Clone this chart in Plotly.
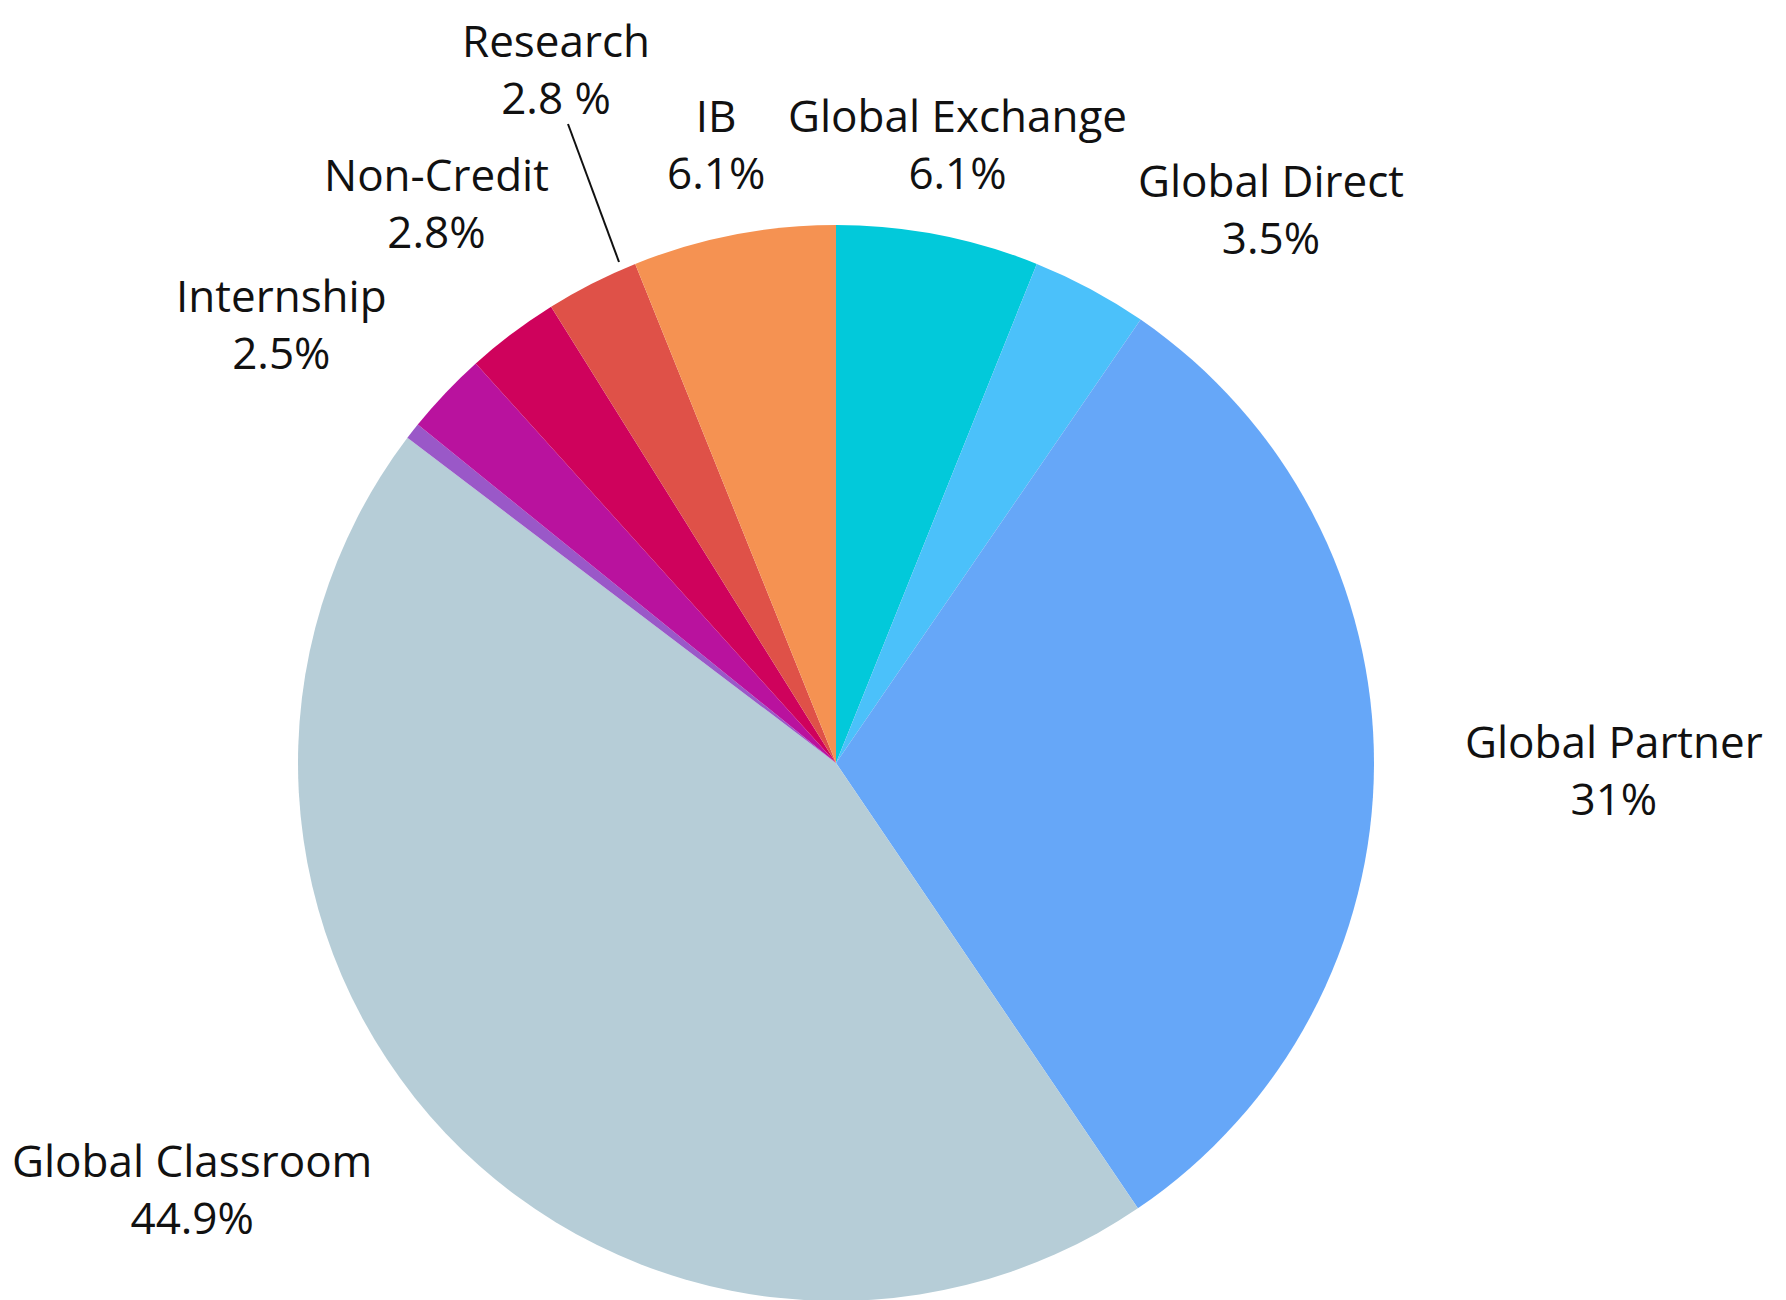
import plotly.graph_objects as go

# slices, clockwise from 12 o'clock
programs = ["Global Exchange", "Global Direct", "Global Partner", "Global Classroom",
            "Other", "Internship", "Non-Credit", "Research", "IB"]
shares = [6.1, 3.5, 31.0, 44.9, 0.5, 2.5, 2.8, 2.8, 6.1]
share_text = ["6.1%", "3.5%", "31%", "44.9%", "", "2.5%", "2.8%", "2.8 %", "6.1%"]
colors = ["#02C9DA", "#4BC1FA", "#66A7F8", "#B6CDD7", "#9A58C8",
          "#B9129E", "#CF025C", "#DF5148", "#F59252"]

# page has an 8px body margin, so the figure starts at (8, 8) in the window;
# the pie runs down to the bottom edge of the window
W, H = 1770, 1300

# label block centres in figure pixels (layout only)
label_pos = {
    "Global Exchange": (949, 136),
    "Global Direct": (1263, 201),
    "Global Partner": (1606, 761),
    "Global Classroom": (184, 1180),
    "Internship": (273, 315),
    "Non-Credit": (428, 194),
    "IB": (708, 136),
}

cx, cy, r = 828, 755, 538

fig = go.Figure()
fig.add_trace(go.Pie(
    labels=programs, values=shares, sort=False, direction="clockwise", rotation=0,
    marker=dict(colors=colors, line=dict(width=0)),
    textinfo="none", showlegend=False,
    domain=dict(x=[(cx - r) / W, (cx + r) / W],
                y=[max(0, (H - cy - r) / H), (H - cy + r) / H]),
))

font = dict(family="Open Sans", size=44, color="#111111")
for name, pct in zip(programs, share_text):
    if name == "Research":
        # sits right at the top edge, anchor from the top
        fig.add_annotation(
            x=548 / W, y=1, xref="paper", yref="paper",
            text=f"{name}<br>{pct}", showarrow=False,
            xanchor="center", yanchor="top", align="center", font=font,
        )
        continue
    if name not in label_pos:
        continue
    px, py = label_pos[name]
    fig.add_annotation(
        x=px / W, y=1 - py / H, xref="paper", yref="paper",
        text=f"{name}<br>{pct}", showarrow=False,
        xanchor="center", yanchor="middle", align="center", font=font,
    )

# leader line for Research
fig.add_shape(type="line", xref="paper", yref="paper",
              x0=560 / W, y0=1 - 116 / H, x1=611 / W, y1=1 - 254 / H,
              line=dict(color="#111111", width=2))

fig.update_layout(
    width=W, height=H,
    margin=dict(l=0, r=0, t=0, b=0),
    paper_bgcolor="white", plot_bgcolor="white",
)

fig.write_html("out.html")
